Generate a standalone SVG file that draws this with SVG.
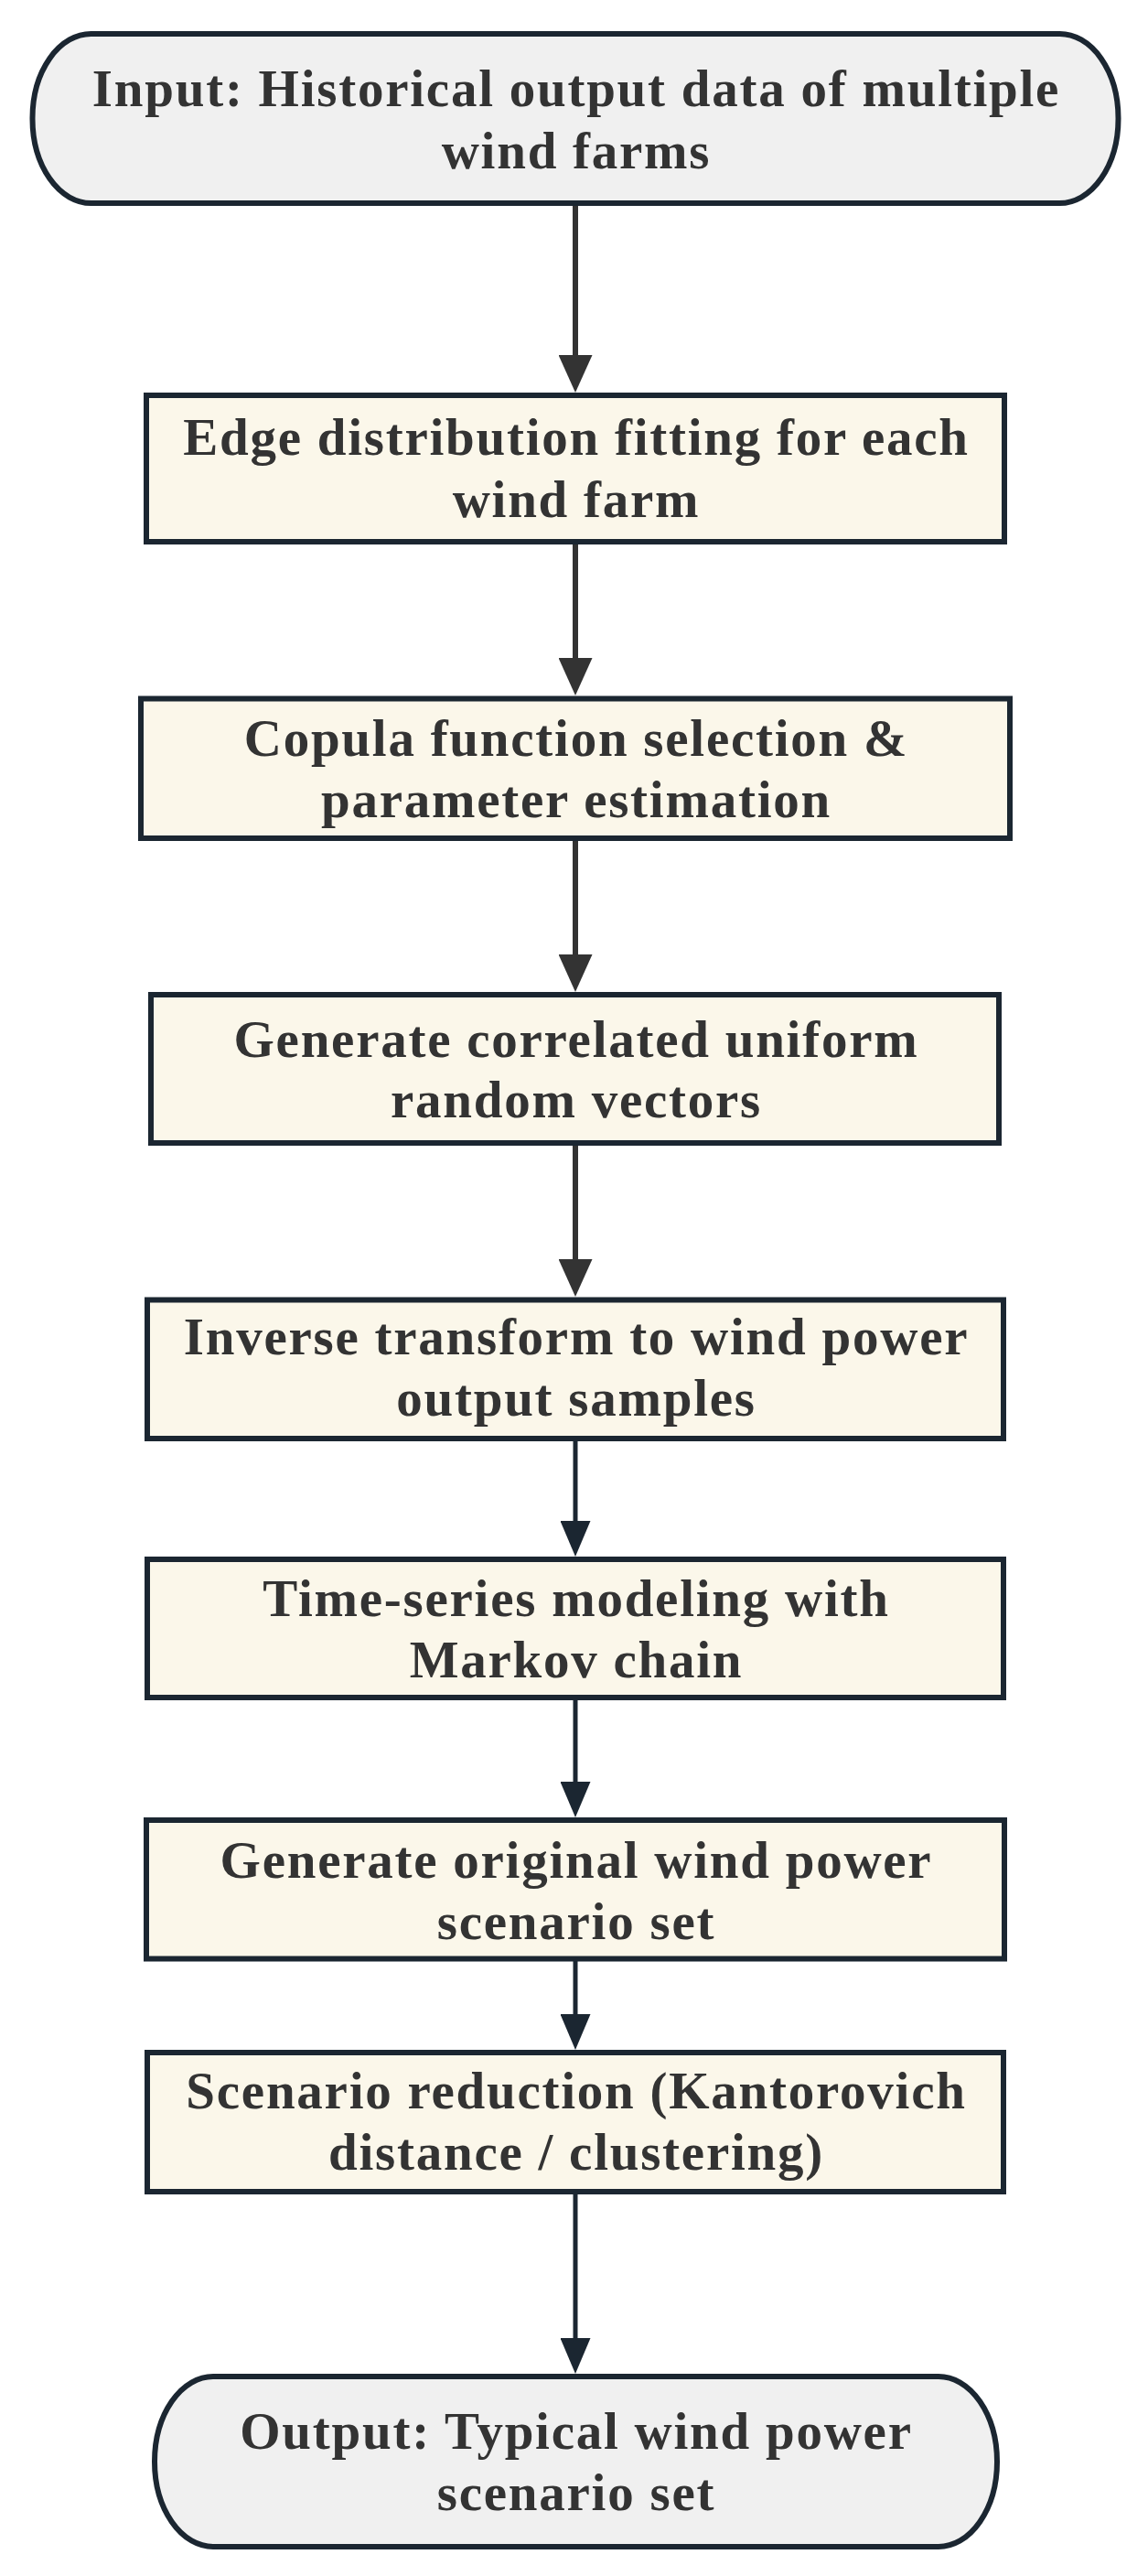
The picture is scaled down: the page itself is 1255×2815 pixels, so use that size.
<svg xmlns="http://www.w3.org/2000/svg" width="1255" height="2815" viewBox="0 0 1255 2815">
<style>
.term{fill:#f0f0f0;stroke:#1b2631;stroke-width:6}
.proc{fill:#fbf7ea;stroke:#1b2631;stroke-width:6}
text{font-family:"Liberation Serif","Times New Roman",serif;font-weight:bold;font-size:57px;fill:#333333;text-anchor:middle;letter-spacing:1.75px}
.c1{stroke:#333333;stroke-width:6;fill:none}
.c2{stroke:#1b2631;stroke-width:5;fill:none}
</style>
<defs>
<marker id="ahA" markerUnits="userSpaceOnUse" viewBox="0 0 41 37" markerWidth="41" markerHeight="37" refX="2" refY="18.5" orient="auto"><path d="M0,0 L41,18.5 L0,37 Z" fill="#333333"/></marker>
<marker id="ahB" markerUnits="userSpaceOnUse" viewBox="0 0 39 33" markerWidth="39" markerHeight="33" refX="2" refY="16.5" orient="auto"><path d="M0,0 L39,16.5 L0,33 Z" fill="#1b2631"/></marker>
</defs>
<rect width="1255" height="2815" fill="#ffffff"/>
<g id="connectors">
<line class="c1" x1="629" y1="225" x2="629" y2="390" marker-end="url(#ahA)"/>
<line class="c1" x1="629" y1="595" x2="629" y2="721" marker-end="url(#ahA)"/>
<line class="c1" x1="629" y1="919" x2="629" y2="1045" marker-end="url(#ahA)"/>
<line class="c1" x1="629" y1="1252" x2="629" y2="1378" marker-end="url(#ahA)"/>
<line class="c2" x1="629" y1="1575" x2="629" y2="1664" marker-end="url(#ahB)"/>
<line class="c2" x1="629" y1="1858" x2="629" y2="1949" marker-end="url(#ahB)"/>
<line class="c2" x1="629" y1="2143" x2="629" y2="2203" marker-end="url(#ahB)"/>
<line class="c2" x1="629" y1="2398" x2="629" y2="2557" marker-end="url(#ahB)"/>
</g>
<g id="input">
<rect class="term" x="35.5" y="37" width="1187" height="185" rx="64" ry="92"/>
<text x="630" y="116">Input: Historical output data of multiple</text>
<text x="630" y="184">wind farms</text>
</g>
<g id="edge-fitting">
<rect class="proc" x="160" y="432" width="938" height="160"/>
<text x="630" y="497">Edge distribution fitting for each</text>
<text x="630" y="565">wind farm</text>
</g>
<g id="copula">
<rect class="proc" x="154" y="763.5" width="950" height="152.5"/>
<text x="630" y="826">Copula function selection &amp;</text>
<text x="630" y="893">parameter estimation</text>
</g>
<g id="uniform">
<rect class="proc" x="165" y="1087" width="927" height="162"/>
<text x="630" y="1155">Generate correlated uniform</text>
<text x="630" y="1221">random vectors</text>
</g>
<g id="inverse">
<rect class="proc" x="161" y="1420.5" width="936" height="151.5"/>
<text x="630" y="1480">Inverse transform to wind power</text>
<text x="630" y="1547">output samples</text>
</g>
<g id="markov">
<rect class="proc" x="161" y="1704" width="936" height="151"/>
<text x="630" y="1766">Time-series modeling with</text>
<text x="630" y="1833">Markov chain</text>
</g>
<g id="original">
<rect class="proc" x="160" y="1989" width="938" height="151.5"/>
<text x="630" y="2052">Generate original wind power</text>
<text x="630" y="2119">scenario set</text>
</g>
<g id="reduction">
<rect class="proc" x="161" y="2243" width="936" height="152"/>
<text x="630" y="2304">Scenario reduction (Kantorovich</text>
<text x="630" y="2371">distance / clustering)</text>
</g>
<g id="output">
<rect class="term" x="169" y="2597" width="921" height="186" rx="64" ry="93"/>
<text x="630" y="2676">Output: Typical wind power</text>
<text x="630" y="2743">scenario set</text>
</g>
</svg>
